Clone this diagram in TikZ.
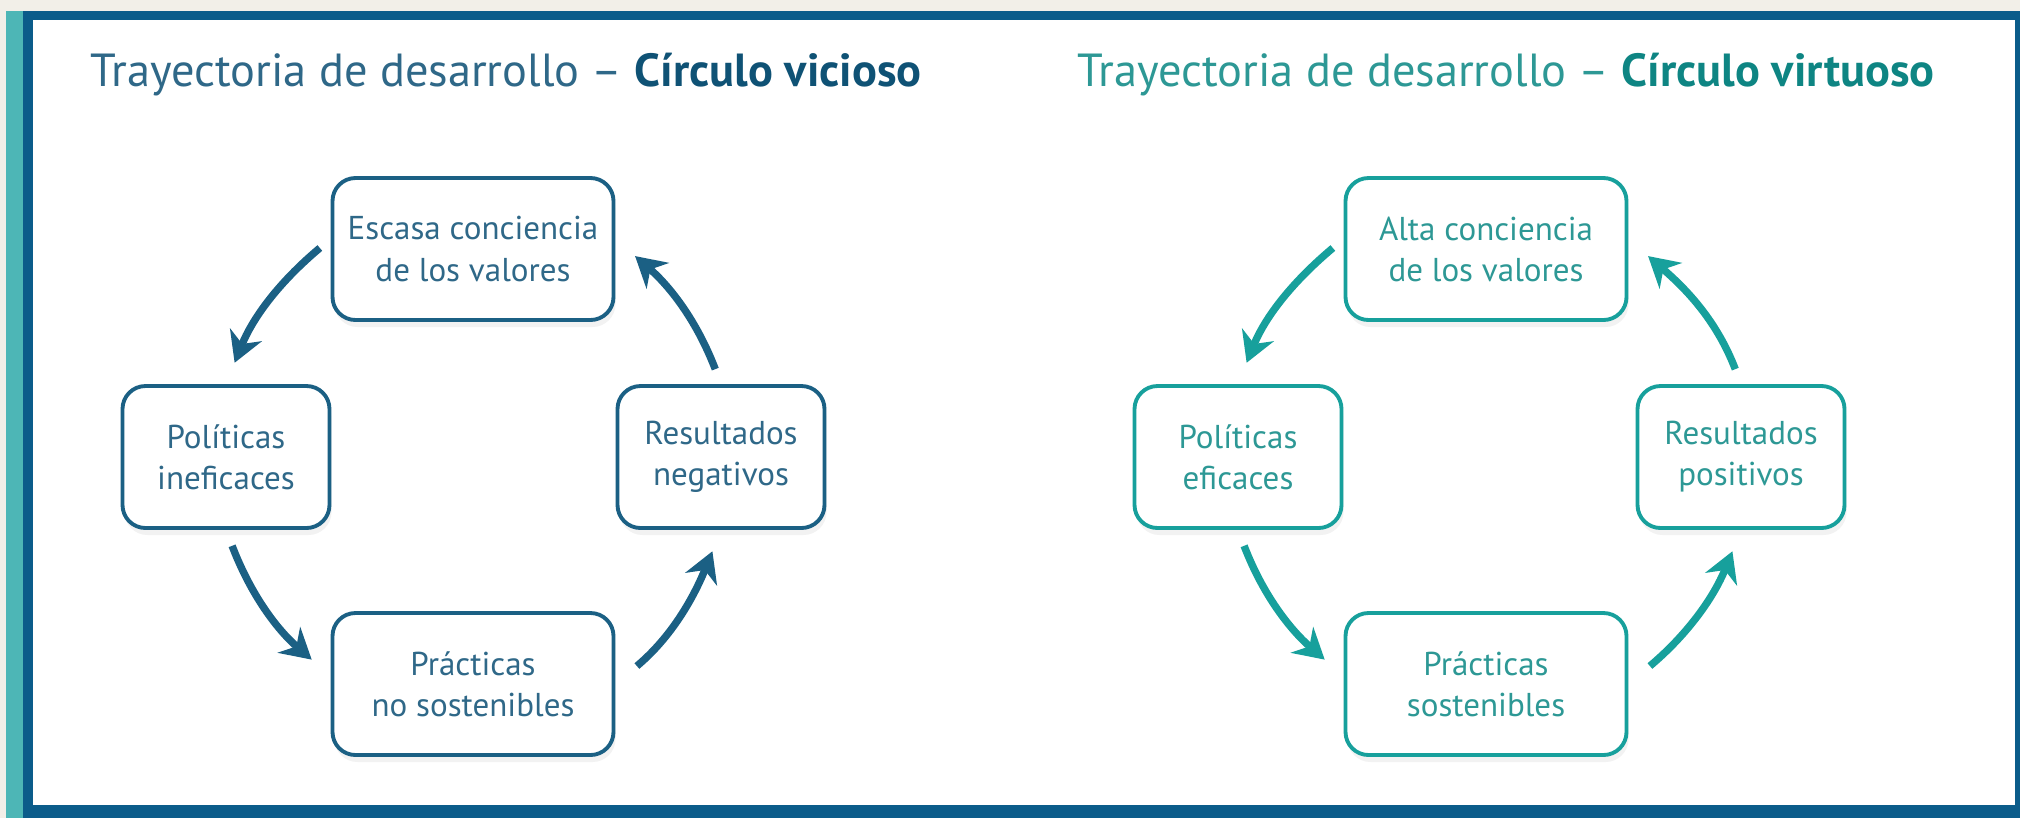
\documentclass[tikz,border=0pt]{standalone}
\usepackage{fontspec}
\setmainfont{PT Sans}
\usetikzlibrary{arrows.meta,shadows}
\definecolor{fondo}{HTML}{F2EFE8}
\definecolor{barra}{HTML}{4DB6B6}
\definecolor{marco}{HTML}{0B5C8A}
\definecolor{azul}{HTML}{1B6084}
\definecolor{azultxt}{HTML}{2F6888}
\definecolor{azulos}{HTML}{0F5275}
\definecolor{verde}{HTML}{17A09C}
\definecolor{verdetxt}{HTML}{2D9895}
\definecolor{verdeos}{HTML}{0E8583}
\tikzset{
  caja/.style={draw=#1, line width=1.1pt, rounded corners=2.3mm, fill=white,
    align=center, minimum height=14.2mm, inner sep=0pt,
    font=\fontsize{9.4}{11.7}\selectfont,
    drop shadow={opacity=0.10, shadow xshift=0.2mm, shadow yshift=-0.7mm}},
  flecha/.style={draw=#1, line width=2.1pt, -{Stealth[length=3mm,width=3.4mm]}},
  titulo/.style={anchor=base west, inner sep=0pt, font=\fontsize{13.2}{16}\selectfont},
}
\begin{document}
\begin{tikzpicture}[x=0.1mm, y=-0.1mm]
\useasboundingbox (0,0) rectangle (2020,818);
\fill[fondo] (0,0) rectangle (2020,818);
\fill[barra] (6,11) rectangle (23,818);
\fill[marco] (23,11) rectangle (2020,818);
\fill[white] (33,20) rectangle (2015,805);
% circulo vicioso
\node[titulo, text=azultxt] (tit1) at (90,86)
  {Trayectoria de desarrollo -- \textbf{\color{azulos}Círculo vicioso}};
\node[caja=azul, text=azultxt, minimum width=28.1mm] (esc) at (473,249)
  {Escasa conciencia\\de los valores};
\node[caja=azul, text=azultxt, minimum width=20.7mm] (pol) at (226,457)
  {Políticas\\ineficaces};
\node[caja=azul, text=azultxt, minimum width=20.7mm] (res) at (721,457)
  {Resultados\\negativos};
\node[caja=azul, text=azultxt, minimum width=28.1mm] (pra) at (473,684)
  {Prácticas\\no sostenibles};
\draw[flecha=azul, shorten <=1.4mm, shorten >=2.3mm]
  ([yshift=1mm]esc.west) to[out=220, in=68] (pol.north);
\draw[flecha=azul, shorten <=1.7mm, shorten >=2.5mm]
  (pol.south) to[out=291, in=139] ([yshift=0.8mm]pra.west);
\draw[flecha=azul, shorten <=2.8mm, shorten >=2.3mm]
  (pra.east) to[out=40, in=248] (res.south);
\draw[flecha=azul, shorten <=1.6mm, shorten >=2.6mm]
  (res.north) to[out=111, in=319] ([yshift=1mm]esc.east);
% circulo virtuoso
\node[titulo, text=verdetxt] (tit2) at (1077,86)
  {Trayectoria de desarrollo -- \textbf{\color{verdeos}Círculo virtuoso}};
\node[caja=verde, text=verdetxt, minimum width=28.1mm] (alt) at (1486,249)
  {Alta conciencia\\de los valores};
\node[caja=verde, text=verdetxt, minimum width=20.7mm] (efi) at (1238,457)
  {Políticas\\eficaces};
\node[caja=verde, text=verdetxt, minimum width=20.7mm] (pos) at (1741,457)
  {Resultados\\positivos};
\node[caja=verde, text=verdetxt, minimum width=28.1mm] (sos) at (1486,684)
  {Prácticas\\sostenibles};
\draw[flecha=verde, shorten <=1.4mm, shorten >=2.3mm]
  ([yshift=1mm]alt.west) to[out=220, in=68] (efi.north);
\draw[flecha=verde, shorten <=1.7mm, shorten >=2.5mm]
  (efi.south) to[out=291, in=139] ([yshift=0.8mm]sos.west);
\draw[flecha=verde, shorten <=2.8mm, shorten >=2.3mm]
  (sos.east) to[out=40, in=248] (pos.south);
\draw[flecha=verde, shorten <=1.6mm, shorten >=2.6mm]
  (pos.north) to[out=111, in=319] ([yshift=1mm]alt.east);
\end{tikzpicture}
\end{document}
